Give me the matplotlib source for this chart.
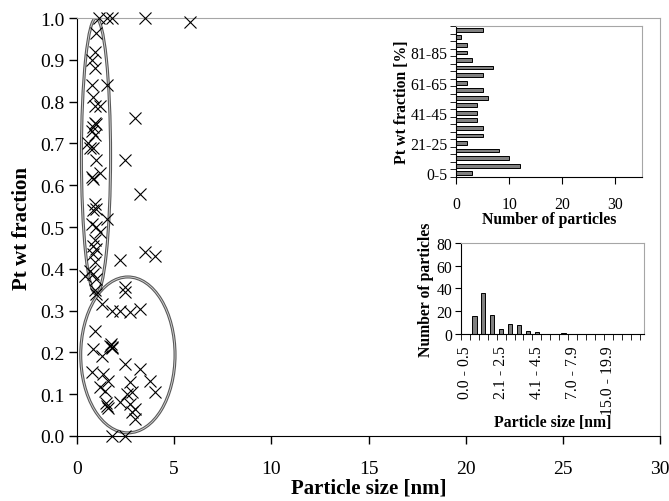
import matplotlib
matplotlib.use("Agg")
import matplotlib.pyplot as plt
from matplotlib.patches import Ellipse
import numpy as np

plt.rcParams['font.family'] = ['Liberation Serif', 'DejaVu Serif']

# main scatter: particle size [nm] vs Pt wt fraction
size_nm = [1.15, 1.53, 1.78, 3.5, 5.8, 1.0,
           0.93, 0.75, 0.93, 1.53, 0.75, 0.84, 0.93, 1.18, 2.98, 0.93, 1.0, 0.84, 0.75, 0.93, 0.58, 0.67,
           0.84, 1.0, 2.47, 0.75, 0.84, 1.18, 3.24, 0.93, 1.0, 0.84, 1.53, 0.75, 1.0, 1.18, 0.93, 0.84,
           1.0, 0.84, 2.2, 3.5, 4.0, 0.93, 0.67, 0.41, 0.84, 1.0, 2.47,
           0.93, 1.0, 2.47, 1.27, 1.78, 2.2, 2.73, 3.24, 0.93, 0.84, 1.7, 1.78, 1.75, 1.82, 1.27, 2.47,
           0.75, 3.24, 1.36, 1.62, 2.73, 3.76, 1.18, 1.44, 4.0, 2.56, 2.81, 1.53, 1.48, 1.58, 2.2, 2.73,
           2.98, 2.81, 2.98, 1.78, 2.47]
pt_frac = [1.0, 1.0, 1.0, 1.0, 0.99, 0.965,
           0.92, 0.90, 0.88, 0.84, 0.84, 0.81, 0.79, 0.79, 0.76, 0.75, 0.746, 0.74, 0.73, 0.72, 0.70, 0.69,
           0.69, 0.66, 0.66, 0.62, 0.615, 0.63, 0.58, 0.555, 0.543, 0.54, 0.52, 0.507, 0.50, 0.488, 0.47, 0.455,
           0.447, 0.435, 0.42, 0.44, 0.43, 0.416, 0.395, 0.384, 0.388, 0.376, 0.357,
           0.35, 0.34, 0.345, 0.316, 0.30, 0.30, 0.297, 0.304, 0.252, 0.208, 0.216, 0.213, 0.22, 0.21, 0.192, 0.172,
           0.153, 0.16, 0.148, 0.132, 0.129, 0.132, 0.117, 0.108, 0.105, 0.10, 0.105, 0.072, 0.078, 0.068, 0.081, 0.077,
           0.065, 0.057, 0.04, 0.0, 0.0]

# inset 1: Pt wt fraction histogram
frac_bins = ['%d-%d' % (1 if i == 0 else 5 * i + 1, 5 * i + 5) for i in range(20)]
frac_bins[0] = '0-5'
frac_counts = [3, 12, 10, 8, 2, 5, 5, 4, 4, 4, 6, 5, 2, 5, 7, 3, 2, 2, 1, 5]

# inset 2: particle size histogram
size_bins = ['0.0 - 0.5', '0.6 - 1.0', '1.1 - 1.5', '1.6 - 2.0', '2.1 - 2.5', '2.6 - 3.0',
             '3.1 - 3.5', '3.6 - 4.0', '4.1 - 4.5', '4.6 - 5.0', '5.1 - 5.9', '6.0 - 6.9',
             '7.0 - 7.9', '8.0 - 8.9', '9.0 - 9.9', '10.0 - 14.9', '15.0 - 19.9',
             '20.0 - 24.9', '25.0 - 29.9', '30.0 - 34.9']
size_counts = [0, 16, 36, 17, 4, 9, 8, 3, 2, 0, 0, 1, 0, 0, 0, 0, 0, 0, 0, 0]

border = '#a6a6a6'
fs_in = 11.3

fig = plt.figure(figsize=(6.69, 5.02), dpi=100)
ax = fig.add_axes([0.115, 0.1295, 0.872, 0.8325])

ax.add_patch(Ellipse((0.98, 0.67), 1.5, 0.66, fill=False, ec='#5a5a5a', lw=2.2, zorder=1))
ax.add_patch(Ellipse((0.98, 0.67), 1.5, 0.66, fill=False, ec='#d8d8d8', lw=0.6, zorder=1))
ax.add_patch(Ellipse((2.62, 0.194), 4.85, 0.373, fill=False, ec='#5a5a5a', lw=2.2, zorder=1))
ax.add_patch(Ellipse((2.62, 0.194), 4.85, 0.373, fill=False, ec='#d8d8d8', lw=0.6, zorder=1))

ax.plot(size_nm, pt_frac, 'x', color='black', ms=9, mew=0.8, clip_on=False, zorder=3)
ax.set_xlim(0, 30)
ax.set_ylim(0, 1.0)
ax.set_xticks(np.arange(0, 31, 5))
ax.set_yticks(np.arange(0, 1.01, 0.1))
ax.set_yticklabels(['%.1f' % v for v in np.arange(0, 1.01, 0.1)])
ax.tick_params(direction='out', length=6, width=1, labelsize=14, pad=3)
ax.tick_params(axis='x', pad=11)
ax.spines['top'].set_color(border)
ax.spines['right'].set_color(border)
ax.set_xlabel('Particle size [nm]', fontsize=15, fontweight='bold', labelpad=1)
ax.set_ylabel('Pt wt fraction', fontsize=15, fontweight='bold', labelpad=6)

# top inset
ax1 = fig.add_axes([0.6816, 0.6454, 0.278, 0.3008])
pos = np.arange(len(frac_counts))
ax1.barh(pos, frac_counts, height=0.5, color='#808080', edgecolor='black', lw=0.7)
ax1.set_xlim(0, 35)
ax1.set_ylim(-0.5, 19.5)
ax1.set_xticks([0, 10, 20, 30])
ax1.set_yticks(pos[::4])
ax1.set_yticklabels(frac_bins[::4])
ax1.set_yticks(np.arange(-0.5, 20, 1), minor=True)
ax1.tick_params(axis='y', which='major', length=0, labelsize=fs_in, pad=6)
ax1.tick_params(axis='y', which='minor', length=4, direction='out')
ax1.tick_params(axis='x', length=5, direction='out', labelsize=fs_in, pad=9)
ax1.spines['top'].set_color(border)
ax1.spines['right'].set_color(border)
ax1.set_xlabel('Number of particles', fontsize=fs_in, fontweight='bold', labelpad=-1)
ax1.set_ylabel('Pt wt fraction [%]', fontsize=fs_in, fontweight='bold', labelpad=0)

# bottom inset
ax2 = fig.add_axes([0.689, 0.3327, 0.2736, 0.1813])
pos2 = np.arange(len(size_counts))
ax2.bar(pos2, size_counts, width=0.5, color='#808080', edgecolor='black', lw=0.7)
ax2.set_xlim(-0.5, 20.0)
ax2.set_ylim(0, 80)
ax2.set_yticks([0, 20, 40, 60, 80])
ax2.set_xticks(pos2[::4])
ax2.set_xticklabels(size_bins[::4], rotation=90)
ax2.set_xticks(np.arange(-0.5, 20.1, 1), minor=True)
ax2.tick_params(axis='x', which='major', length=0, labelsize=fs_in, pad=8)
ax2.tick_params(axis='x', which='minor', length=4, direction='out')
ax2.tick_params(axis='y', length=4, direction='out', labelsize=fs_in, pad=2)
ax2.spines['top'].set_color(border)
ax2.spines['right'].set_color(border)
ax2.set_xlabel('Particle size [nm]', fontsize=fs_in, fontweight='bold', labelpad=0)
ax2.set_ylabel('Number of particles', fontsize=fs_in, fontweight='bold', labelpad=2)

fig.savefig('out.png', dpi=100)
